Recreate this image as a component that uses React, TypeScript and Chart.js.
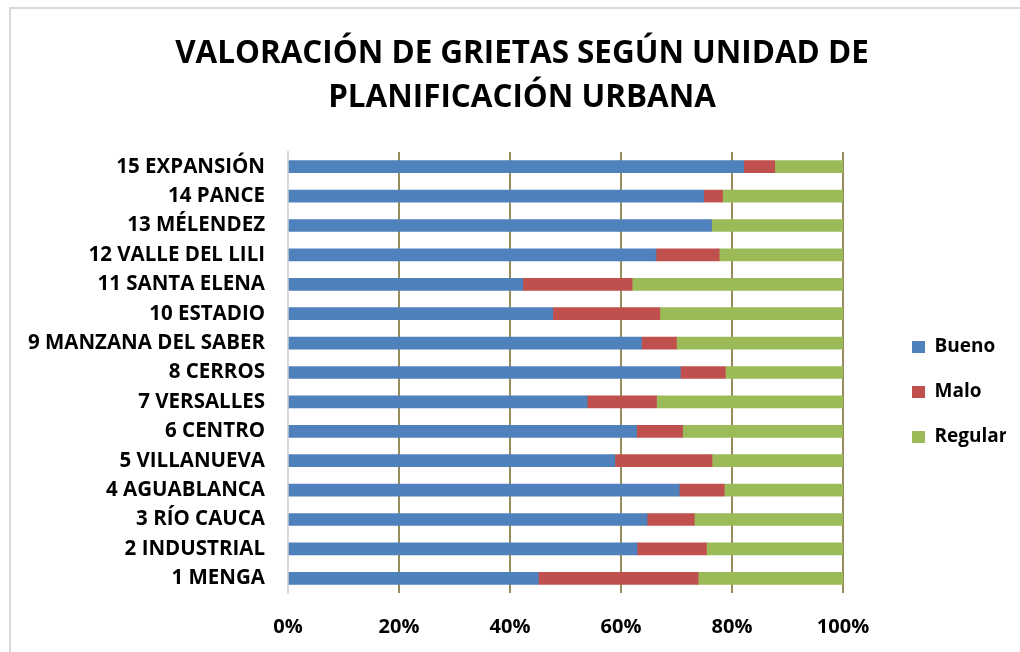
import React, { useEffect, useRef } from "react";
import { Chart, registerables } from "chart.js";

Chart.register(...registerables);

const categories = [
  "1 MENGA",
  "2 INDUSTRIAL",
  "3 RÍO CAUCA",
  "4 AGUABLANCA",
  "5 VILLANUEVA",
  "6 CENTRO",
  "7 VERSALLES",
  "8 CERROS",
  "9 MANZANA DEL SABER",
  "10 ESTADIO",
  "11 SANTA ELENA",
  "12 VALLE DEL LILI",
  "13 MÉLENDEZ",
  "14 PANCE",
  "15 EXPANSIÓN",
];
const bueno = [45.1, 62.9, 64.7, 70.5, 58.9, 62.8, 53.9, 70.7, 63.7, 47.7, 42.3, 66.3, 76.3, 74.9, 82.1];
const malo = [28.8, 12.5, 8.5, 8.1, 17.5, 8.3, 12.5, 8.1, 6.3, 19.3, 19.7, 11.4, 0, 3.4, 5.6];
const regular = [26.1, 24.6, 26.8, 21.4, 23.6, 28.9, 33.6, 21.2, 30.0, 33.0, 38.0, 22.3, 23.7, 21.7, 12.3];
const seriesNames = ["Bueno", "Malo", "Regular"];
const seriesColors = ["#4F81BD", "#C0504D", "#9BBB59"];
const xTickStep = 20;
const xMax = 100;
const titleLines = ["VALORACIÓN DE GRIETAS SEGÚN UNIDAD DE", "PLANIFICACIÓN URBANA"];

const FONT = "'Open Sans', 'Noto Sans', sans-serif";
const LEG_DX = 43;
const LEG_DY = 19.5;
const TITLE_DX = 40.5;

const shiftPlugin = {
  id: "shiftBoxes",
  afterLayout(chart: any) {
    const lg = chart.legend;
    if (lg) {
      lg.left += LEG_DX;
      lg.right += LEG_DX;
      lg.top += LEG_DY;
      lg.bottom += LEG_DY;
    }
    const t = chart.titleBlock;
    if (t) {
      t.left += TITLE_DX;
      t.right += TITLE_DX;
    }
  },
};

export default function App() {
  const ref = useRef<HTMLCanvasElement | null>(null);

  useEffect(() => {
    if (!ref.current) return;
    const values = [bueno, malo, regular];
    const chart = new Chart(ref.current, {
      type: "bar",
      data: {
        labels: categories,
        datasets: seriesNames.map((name, i) => ({
          label: name,
          data: values[i],
          backgroundColor: seriesColors[i],
          borderWidth: 0,
          barThickness: 12,
        })),
      },
      options: {
        indexAxis: "y",
        responsive: false,
        animation: false,
        devicePixelRatio: 1,
        layout: { padding: { left: 0, right: 57, top: 0, bottom: 13 } },
        scales: {
          x: {
            stacked: true,
            min: 0,
            max: xMax,
            afterFit: (scale: any) => {
              scale.height = 46;
            },
            ticks: {
              stepSize: xTickStep,
              padding: 22,
              color: "#000",
              font: { family: FONT, size: 20, weight: "bold" },
              callback: (v: any) => v + "%",
            },
            grid: {
              drawTicks: false,
              lineWidth: 2,
              color: (ctx: any) => (ctx.index === 0 ? "rgba(0,0,0,0)" : "#968C5C"),
            },
            border: { display: false },
          },
          y: {
            stacked: true,
            reverse: true,
            afterFit: (scale: any) => {
              scale.width = 288;
            },
            ticks: {
              padding: 23,
              color: "#000",
              font: { family: FONT, size: 20.5, weight: "bold" },
            },
            grid: { drawOnChartArea: false, drawTicks: false },
            border: { display: true, color: "#D9D9D9", width: 2 },
          },
        },
        plugins: {
          title: {
            display: true,
            text: titleLines,
            color: "#000",
            font: { family: FONT, size: 31.4, weight: "bold", lineHeight: 44 / 31.4 },
            padding: { top: 32, bottom: 32 },
          },
          legend: {
            position: "right",
            fullSize: false,
            maxWidth: 120,
            labels: {
              boxWidth: 13,
              boxHeight: 12,
              padding: 26,
              color: "#000",
              font: { family: FONT, size: 19, weight: "bold" },
            },
          },
          tooltip: { enabled: false },
        },
      },
      plugins: [shiftPlugin],
    });
    return () => chart.destroy();
  }, []);

  return (
    <div>
      <div
        style={{
          position: "absolute",
          left: 9,
          top: 7,
          width: 1011,
          height: 645,
          borderTop: "2px solid #D9D9D9",
          borderLeft: "2px solid #D9D9D9",
          boxSizing: "border-box",
          background: "#fff",
        }}
      />
      <canvas
        ref={ref}
        width={1020}
        height={652}
        style={{ position: "absolute", left: 0, top: 0, width: 1020, height: 652 }}
      />
    </div>
  );
}
